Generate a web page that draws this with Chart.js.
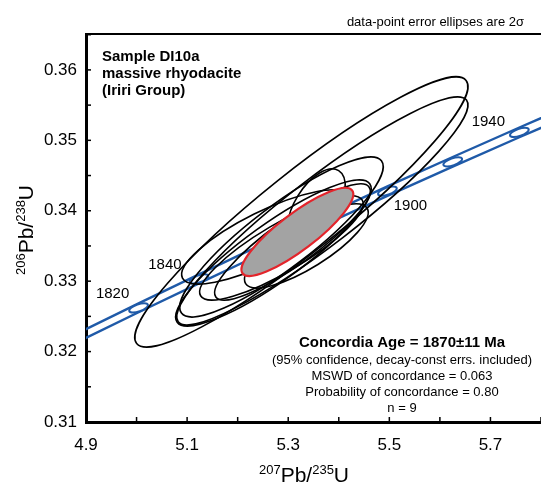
<!DOCTYPE html>
<html>
<head>
<meta charset="utf-8">
<script src="https://cdn.jsdelivr.net/npm/chart.js@4.4.1/dist/chart.umd.min.js"></script>
<style>
  html, body { margin: 0; padding: 0; background: #fff; }
</style>
</head>
<body>
<canvas id="chart" width="541" height="484"></canvas>
<script>
const FONT = "'Liberation Sans', Arial, sans-serif";
const BLUE = '#1f5aa8';

// ===== DATA =====
// concordia band (decay-constant envelope), ages in Ma
const concAges   = [1800, 1820, 1840, 1860, 1880, 1900, 1920, 1940, 1960];
const concX      = [4.8869, 5.0040, 5.1234, 5.2452, 5.3695, 5.4962, 5.6254, 5.7572, 5.8916];
const concUpperY = [0.32273, 0.32684, 0.33097, 0.33512, 0.33928, 0.34345, 0.34763, 0.35182, 0.35603];
const concLowerY = [0.32149, 0.32558, 0.32969, 0.33382, 0.33796, 0.34211, 0.34627, 0.35044, 0.35463];

// age markers on the concordia
const markerAges = [1820, 1840, 1860, 1880, 1900, 1920, 1940];
const markerX    = [5.0040, 5.1234, 5.2452, 5.3695, 5.4962, 5.6254, 5.7572];
const markerY    = [0.32621, 0.33033, 0.33447, 0.33862, 0.34278, 0.34695, 0.35113];
const markerErrX = 0.0185;
const markerErrY = 0.00066;
const markerRho  = 0.6;
const labelAges  = [1820, 1840, 1900, 1940];

// data-point error ellipses (2 sigma): 207Pb/235U, 206Pb/238U, errors, rho
const ellX    = [5.3260, 5.3675, 5.2866, 5.2708, 5.2550, 5.3359, 5.3556, 5.2866, 5.3083];
const ellY    = [0.33983, 0.33997, 0.33628, 0.33401, 0.33628, 0.33500, 0.34054, 0.33472, 0.33557];
const ellErrX = [0.3294, 0.2880, 0.2012, 0.1933, 0.1657, 0.1223, 0.0572, 0.1617, 0.1538];
const ellErrY = [0.01918, 0.01619, 0.01136, 0.01037, 0.00668, 0.00597, 0.00540, 0.00739, 0.00824];
const ellRho  = [0.93, 0.93, 0.88, 0.88, 0.80, 0.80, 0.55, 0.85, 0.88];

// concordia age ellipse
const ageX = 5.3181, ageY = 0.33699, ageErrX = 0.1105, ageErrY = 0.00625, ageRho = 0.86;

const sampleLines = ['Sample DI10a', 'massive rhyodacite', '(Iriri Group)'];
const resultLines = [
  'Concordia Age = 1870\u00b111 Ma',
  '(95% confidence, decay-const errs. included)',
  'MSWD of concordance = 0.063',
  'Probability of concordance = 0.80',
  'n = 9'
];

// label offsets from marker (px)
const labelOffsets = [[-26, -14], [-34, -14], [23, 15], [-31, -11]];

// ===== HELPERS =====
function ellipsePath(chart, cx, cy, ex, ey, rho) {
  const xs = chart.scales.x, ys = chart.scales.y, ctx = chart.ctx;
  const px = xs.getPixelForValue(cx), py = ys.getPixelForValue(cy);
  const sx = Math.abs(xs.getPixelForValue(cx + ex) - px);
  const sy = Math.abs(ys.getPixelForValue(cy + ey) - py);
  const a = sx * sx, d = sy * sy, b = -rho * sx * sy; // pixel y runs downward
  const mid = (a + d) / 2, r = Math.sqrt(((a - d) / 2) ** 2 + b * b);
  const theta = 0.5 * Math.atan2(2 * b, a - d);
  ctx.beginPath();
  ctx.ellipse(px, py, Math.sqrt(mid + r), Math.sqrt(Math.max(mid - r, 0.01)), theta, 0, Math.PI * 2);
}

function drawSup(ctx, parts, x, y, big, small) {
  let w = 0;
  parts.forEach(p => { ctx.font = (p.sup ? small : big) + 'px ' + FONT; w += ctx.measureText(p.t).width; });
  let cx = x - w / 2;
  ctx.textAlign = 'left';
  ctx.textBaseline = 'alphabetic';
  parts.forEach(p => {
    ctx.font = (p.sup ? small : big) + 'px ' + FONT;
    ctx.fillText(p.t, cx, p.sup ? y - 8 : y);
    cx += ctx.measureText(p.t).width;
  });
}

const concordiaPlugin = {
  id: 'concordia',
  afterDatasetsDraw(chart) {
    const ctx = chart.ctx, area = chart.chartArea;
    ctx.save();
    ctx.beginPath();
    ctx.rect(area.left, area.top, area.right - area.left, area.bottom - area.top);
    ctx.clip();

    // age markers
    ctx.strokeStyle = BLUE;
    ctx.lineWidth = 2;
    markerAges.forEach((age, i) => {
      ellipsePath(chart, markerX[i], markerY[i], markerErrX, markerErrY, markerRho);
      ctx.fillStyle = '#fff';
      ctx.fill();
      ctx.stroke();
    });

    // data-point ellipses
    ctx.strokeStyle = '#000';
    ctx.lineWidth = 1.6;
    ellX.forEach((x, i) => {
      ellipsePath(chart, x, ellY[i], ellErrX[i], ellErrY[i], ellRho[i]);
      ctx.stroke();
    });

    // concordia age ellipse
    ellipsePath(chart, ageX, ageY, ageErrX, ageErrY, ageRho);
    ctx.fillStyle = '#a3a3a3';
    ctx.fill();
    ctx.strokeStyle = '#e3242b';
    ctx.lineWidth = 2.2;
    ctx.stroke();
    ctx.restore();
  },
  afterDraw(chart) {
    const ctx = chart.ctx, area = chart.chartArea;
    const xs = chart.scales.x, ys = chart.scales.y;
    ctx.save();

    // top frame line
    ctx.strokeStyle = '#000';
    ctx.lineWidth = 2;
    ctx.beginPath();
    ctx.moveTo(area.left, area.top);
    ctx.lineTo(area.right, area.top);
    ctx.stroke();

    // inward tick marks
    ctx.lineWidth = 1.5;
    xs.ticks.forEach(t => {
      const px = xs.getPixelForValue(t.value);
      ctx.beginPath(); ctx.moveTo(px, area.bottom); ctx.lineTo(px, area.bottom - 5); ctx.stroke();
    });
    ys.ticks.forEach(t => {
      const py = ys.getPixelForValue(t.value);
      ctx.beginPath(); ctx.moveTo(area.left, py); ctx.lineTo(area.left + 5, py); ctx.stroke();
    });

    ctx.fillStyle = '#000';

    // age labels on concordia
    ctx.font = '15px ' + FONT;
    ctx.textAlign = 'center';
    ctx.textBaseline = 'middle';
    labelAges.forEach((age, i) => {
      const k = markerAges.indexOf(age);
      const px = xs.getPixelForValue(markerX[k]) + labelOffsets[i][0];
      const py = ys.getPixelForValue(markerY[k]) + labelOffsets[i][1];
      ctx.fillText(String(age), px, py);
    });

    // sample description
    ctx.font = 'bold 15px ' + FONT;
    ctx.textAlign = 'left';
    ctx.textBaseline = 'alphabetic';
    sampleLines.forEach((s, i) => ctx.fillText(s, 102, 61 + i * 17));

    // result block
    ctx.textAlign = 'center';
    ctx.textBaseline = 'middle';
    resultLines.forEach((s, i) => {
      ctx.font = (i === 0 ? 'bold 15px ' : '13px ') + FONT;
      ctx.fillText(s, 402, i === 0 ? 343 : 344 + i * 16);
    });

    // note at top
    ctx.font = '13px ' + FONT;
    ctx.textAlign = 'right';
    ctx.fillText('data-point error ellipses are 2\u03c3', 524, 22);

    // axis titles
    drawSup(ctx, [{t: '207', sup: true}, {t: 'Pb/'}, {t: '235', sup: true}, {t: 'U'}], 304, 482, 21, 13);
    ctx.translate(33, 230);
    ctx.rotate(-Math.PI / 2);
    drawSup(ctx, [{t: '206', sup: true}, {t: 'Pb/'}, {t: '238', sup: true}, {t: 'U'}], 0, 0, 21, 13);
    ctx.restore();
  }
};

// ===== CHART =====
new Chart(document.getElementById('chart'), {
  type: 'scatter',
  data: {
    datasets: [
      {
        label: 'upper',
        data: concX.map((x, i) => ({ x, y: concUpperY[i] })),
        showLine: true, borderColor: BLUE, borderWidth: 2.4, pointRadius: 0, fill: false
      },
      {
        label: 'lower',
        data: concX.map((x, i) => ({ x, y: concLowerY[i] })),
        showLine: true, borderColor: BLUE, borderWidth: 2.4, pointRadius: 0, fill: false
      }
    ]
  },
  options: {
    responsive: false,
    animation: false,
    layout: { padding: { top: 34, right: 0, left: 0, bottom: 0 } },
    plugins: { legend: { display: false }, tooltip: { enabled: false } },
    scales: {
      x: {
        type: 'linear', min: 4.9, max: 5.8,
        grid: { display: false, drawTicks: false },
        border: { display: true, color: '#000', width: 3 },
        ticks: {
          stepSize: 0.1, includeBounds: false, autoSkip: false, maxRotation: 0,
          padding: 13, color: '#000', font: { family: FONT, size: 17 },
          callback: (v, i) => (i % 2 === 0 ? v.toFixed(1) : '')
        },
        afterFit: s => { s.height = 62; s.paddingLeft = 0; s.paddingRight = 0; }
      },
      y: {
        type: 'linear', min: 0.31, max: 0.3651,
        grid: { display: false, drawTicks: false },
        border: { display: true, color: '#000', width: 3 },
        ticks: {
          stepSize: 0.005, includeBounds: false, autoSkip: false,
          padding: 9, color: '#000', font: { family: FONT, size: 17 },
          callback: v => (Math.abs(v * 100 - Math.round(v * 100)) < 1e-6 ? v.toFixed(2) : '')
        },
        afterFit: s => { s.width = 86; s.paddingTop = 0; s.paddingBottom = 0; }
      }
    }
  },
  plugins: [concordiaPlugin]
});
</script>
</body>
</html>
